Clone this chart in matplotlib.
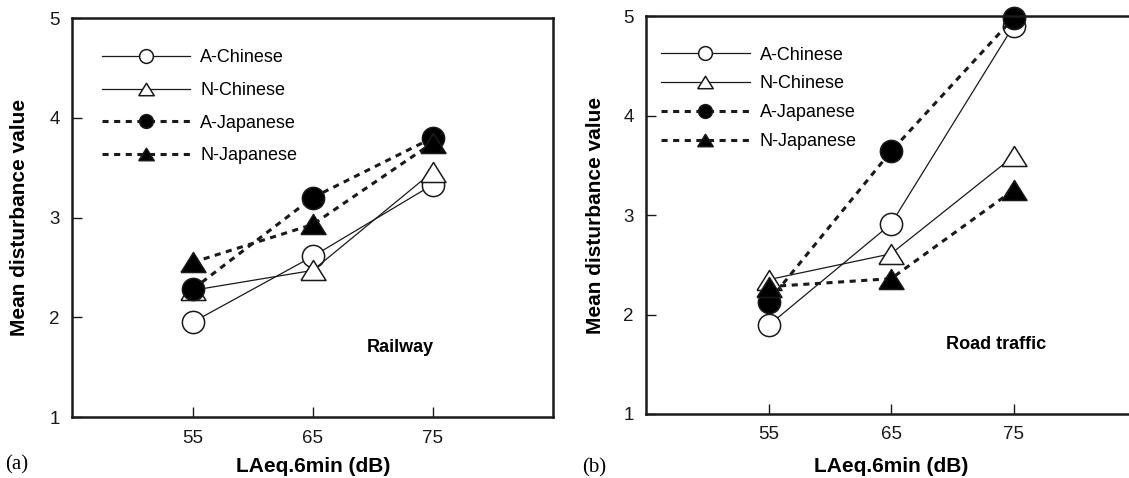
import matplotlib
matplotlib.use('Agg')
import matplotlib.pyplot as plt

plt.rcParams['font.family'] = ['Liberation Sans', 'DejaVu Sans']

# Niveles de ruido (dB)
niveles = [55, 65, 75]
series = ['A-Chinese', 'N-Chinese', 'A-Japanese', 'N-Japanese']

# Valores (a) Railway
ferrocarril = {
    'A-Chinese': [1.95, 2.61, 3.33],
    'N-Chinese': [2.27, 2.47, 3.46],
    'A-Japanese': [2.28, 3.20, 3.80],
    'N-Japanese': [2.55, 2.93, 3.75],
}

# Valores (b) Road traffic
carretera = {
    'A-Chinese': [1.89, 2.91, 4.90],
    'N-Chinese': [2.35, 2.61, 3.59],
    'A-Japanese': [2.13, 3.64, 4.98],
    'N-Japanese': [2.28, 2.36, 3.25],
}

# Triangulo un poco mas ancho que alto, como en el original
triangulo = [(-1.25, -1), (1.25, -1), (0, 1), (-1.25, -1)]

estilos = {
    'A-Chinese': dict(marker='o', ms=16, mfc='white', ls='-', lw=0.9),
    'N-Chinese': dict(marker=triangulo, ms=18, mfc='white', ls='-', lw=0.9),
    'A-Japanese': dict(marker='o', ms=16, mfc='black', ls=(0, (2, 1.8)), lw=2.2),
    'N-Japanese': dict(marker=triangulo, ms=18, mfc='black', ls=(0, (2, 1.8)), lw=2.2),
}

fig = plt.figure(figsize=(11.29, 4.78), dpi=100)
ax1 = fig.add_axes([0.0642, 0.1276, 0.4256, 0.8347])
ax2 = fig.add_axes([0.5722, 0.1339, 0.4340, 0.8326])


def dibujar(ax, datos, etiqueta, leg_x, leg_y, espacio):
    for s in series:
        e = estilos[s]
        ax.plot(niveles, datos[s], color='#1a1a1a', marker=e['marker'],
                markerfacecolor=e['mfc'], markeredgecolor='#1a1a1a',
                markeredgewidth=1.1, markersize=e['ms'], linestyle=e['ls'],
                linewidth=e['lw'], label=s, clip_on=False)
    ax.set_xlim(45, 85)
    ax.set_ylim(1, 5)
    ax.set_xticks(niveles)
    ax.set_yticks([1, 2, 3, 4, 5])
    ax.tick_params(direction='in', length=7, width=1, labelsize=13.5, pad=9,
                   colors='#1a1a1a')
    for sp in ax.spines.values():
        sp.set_linewidth(1.8)
        sp.set_color('#1a1a1a')
    ax.set_xlabel('LAeq.6min (dB)', fontsize=15, fontweight='bold')
    ax.set_ylabel('Mean disturbance value', fontsize=15, fontweight='bold')
    ax.text(69.5, 1.7, etiqueta, fontsize=13, fontweight='bold',
            va='center', ha='left')
    ax.legend(loc='upper left', bbox_to_anchor=(leg_x, leg_y), frameon=False,
              fontsize=13, handlelength=4.9, handletextpad=0.55,
              markerscale=0.62, labelspacing=espacio, borderpad=0,
              borderaxespad=0)


dibujar(ax1, ferrocarril, 'Railway', 0.061, 0.922, 0.87)
ax1.yaxis.set_label_coords(-0.09, 0.5)
ax1.xaxis.set_label_coords(0.5, -0.1)
dibujar(ax2, carretera, 'Road traffic', 0.031, 0.923, 0.65)
ax2.yaxis.set_label_coords(-0.084, 0.5)
ax2.xaxis.set_label_coords(0.5, -0.108)

fig.text(5 / 1129, 1 - 465 / 478, '(a)', fontsize=15, va='center',
         family='Liberation Serif')
fig.text(582 / 1129, 1 - 468 / 478, '(b)', fontsize=15, va='center',
         family='Liberation Serif')

plt.savefig('out.png', dpi=100)
